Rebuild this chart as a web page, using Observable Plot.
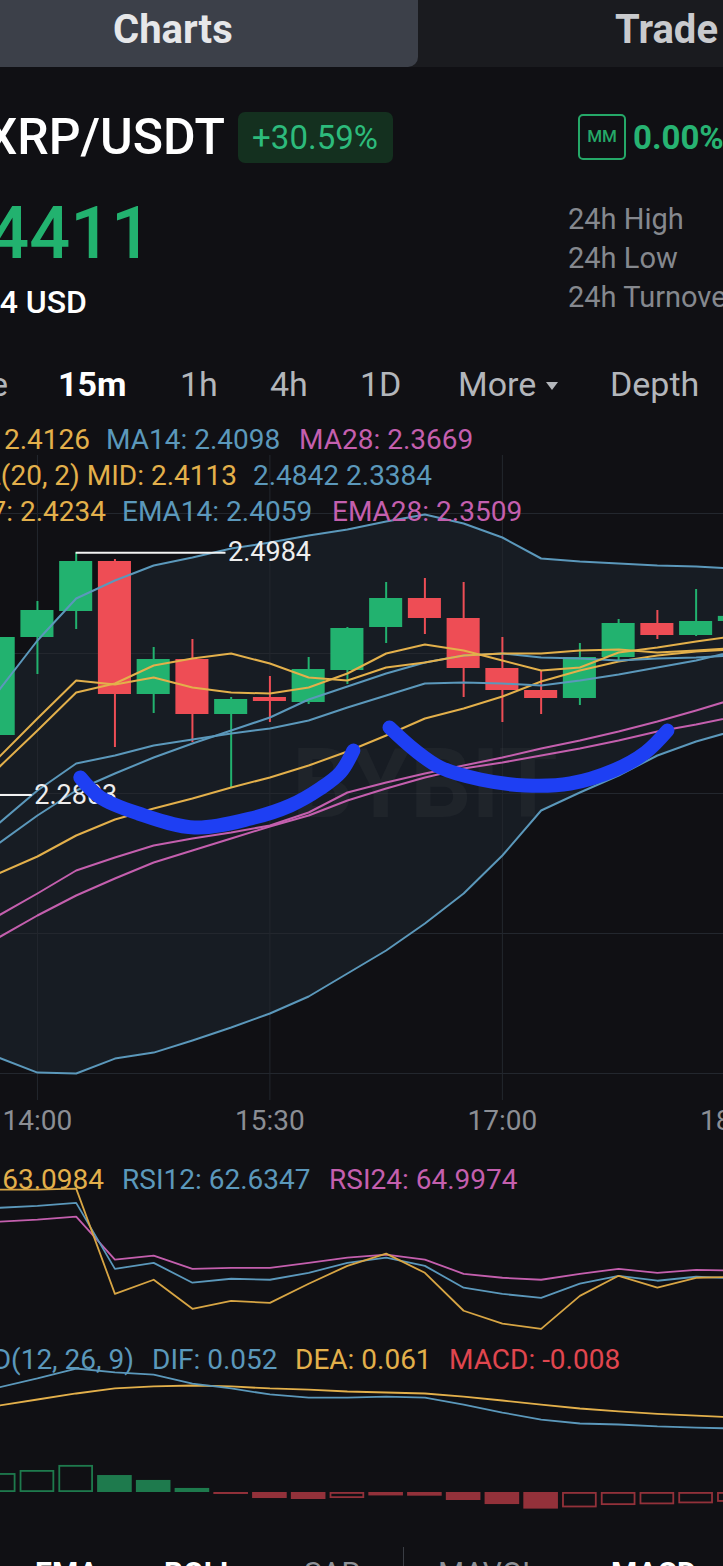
<!DOCTYPE html>
<html><head><meta charset="utf-8">
<script src="https://cdn.jsdelivr.net/npm/d3@7"></script>
<script src="https://cdn.jsdelivr.net/npm/@observablehq/plot@0.6"></script>
<style>
html,body{margin:0;padding:0;}
body{width:723px;height:1566px;overflow:hidden;position:relative;background:#101014;font-family:Roboto,"Noto Sans",sans-serif;}
.t{position:absolute;white-space:nowrap;line-height:1;}
.box{position:absolute;}
</style></head><body>
<script>
// ---------------- DATA ----------------
const times = ["13:45","14:00","14:15","14:30","14:45","15:00","15:15","15:30","15:45","16:00","16:15","16:30","16:45","17:00","17:15","17:30","17:45","18:00","18:15","18:30"];
const timeTicks = ["14:00","15:30","17:00","18:30"];
const gridPrices = [2.0297, 2.1557, 2.2817, 2.4077, 2.5337];

const priceOpen  = [2.3339,2.4221,2.4455,2.4905,2.3708,2.4023,2.3528,2.3681,2.3636,2.3924,2.4311,2.4572,2.4392,2.3942,2.3744,2.3672,2.4041,2.4347,2.4239,2.4365];
const priceHigh  = [2.4240,2.4545,2.4984,2.4923,2.4131,2.4203,2.3681,2.3870,2.4041,2.4311,2.4716,2.4752,2.4716,2.4221,2.3924,2.4167,2.4383,2.4464,2.4653,2.4420];
const priceLow   = [2.3300,2.3888,2.4293,2.3231,2.3537,2.3276,2.2862,2.3456,2.3618,2.3798,2.4167,2.4248,2.3681,2.3456,2.3528,2.3609,2.4005,2.4203,2.4230,2.4350];
const priceClose = [2.4221,2.4464,2.4905,2.3708,2.4023,2.3528,2.3663,2.3645,2.3933,2.4302,2.4572,2.4392,2.3942,2.3744,2.3672,2.4041,2.4347,2.4239,2.4365,2.4411];

const ma7   = [2.3051,2.3384,2.3726,2.3807,2.3969,2.4032,2.4077,2.3987,2.3861,2.3834,2.3951,2.3996,2.4059,2.4077,2.4077,2.4104,2.4113,2.4086,2.4104,2.4126];
const ma14  = [2.2547,2.2844,2.3087,2.3159,2.3249,2.3303,2.3357,2.3402,2.3474,2.3591,2.3699,2.3807,2.3816,2.3807,2.3789,2.3834,2.3888,2.3951,2.4014,2.4098];
const ma28  = [2.1719,2.1917,2.2124,2.2241,2.2349,2.2412,2.2466,2.2529,2.2646,2.2826,2.2916,2.2997,2.3069,2.3141,2.3222,2.3294,2.3375,2.3465,2.3564,2.3669];
const ema7  = [2.3141,2.3492,2.3834,2.3798,2.3861,2.3771,2.3726,2.3717,2.3771,2.3897,2.4077,2.4158,2.4104,2.4014,2.3924,2.3951,2.4086,2.4131,2.4185,2.4234];
const ema14 = [2.2367,2.2619,2.2844,2.2997,2.3141,2.3267,2.3384,2.3501,2.3663,2.3780,2.3897,2.3996,2.4059,2.4077,2.4041,2.4032,2.4014,2.4032,2.4041,2.4059];
const ema28 = [2.1521,2.1719,2.1899,2.2052,2.2196,2.2304,2.2412,2.2520,2.2619,2.2754,2.2862,2.2961,2.3042,2.3096,2.3159,2.3222,2.3294,2.3375,2.3438,2.3509];
const bollUp  = [2.3744,2.4194,2.4572,2.4734,2.4869,2.4941,2.5022,2.5076,2.5139,2.5193,2.5265,2.5328,2.5247,2.5121,2.4932,2.4905,2.4887,2.4869,2.4860,2.4842];
const bollMid = [2.2097,2.2250,2.2439,2.2583,2.2682,2.2772,2.2871,2.2961,2.3069,2.3195,2.3339,2.3492,2.3582,2.3690,2.3825,2.3924,2.4005,2.4059,2.4095,2.4113];
const bollLow = [2.0440,2.0305,2.0297,2.0431,2.0485,2.0594,2.0711,2.0837,2.0990,2.1197,2.1404,2.1647,2.1917,2.2259,2.2664,2.2826,2.2979,2.3159,2.3285,2.3384];

const highMark = {time: "14:15", price: 2.4984};
const lowMark  = {time: "13:00", price: 2.2803};

const rsi6  = [89.5,89.5,89.8,57.9,62.2,53.4,55.8,55.2,61.0,66.4,70.1,64.3,52.8,48.9,47.3,57.3,63.4,59.8,62.8,63.0984];
const rsi12 = [84.0,84.6,85.5,65.5,67.3,61.3,62.5,62.2,64.3,67.3,68.9,66.4,59.8,57.9,56.7,61.0,63.4,61.9,63.1,62.6347];
const rsi24 = [79.8,80.4,81.3,68.3,69.5,65.5,65.8,65.8,67.3,68.9,69.8,68.3,64.0,62.8,62.2,64.0,65.5,64.3,65.2,64.9974];

const dif  = [0.0854,0.0927,0.1008,0.0976,0.0959,0.0886,0.0846,0.0797,0.0772,0.0772,0.0780,0.0772,0.0715,0.0650,0.0593,0.0561,0.0553,0.0537,0.0528,0.052];
const dea  = [0.0707,0.0756,0.0805,0.0846,0.0862,0.0870,0.0862,0.0846,0.0837,0.0821,0.0813,0.0805,0.0780,0.0748,0.0715,0.0683,0.0659,0.0640,0.0625,0.061];
const macdHist = [0.0154,0.0179,0.0220,0.0138,0.0098,0.0033,-0.0016,-0.0049,-0.0057,-0.0049,-0.0028,-0.0030,-0.0065,-0.0098,-0.0135,-0.0125,-0.0106,-0.0100,-0.0092,-0.008];

// hand-drawn blue annotation strokes (minutes since midnight, price)
const arc1Time  = [856.6,864.4,879.1,900.8,922.5,937.9,949.5,957.3,962.3];
const arc1Price = [2.2961,2.2781,2.2637,2.2511,2.2592,2.2709,2.2862,2.3006,2.3204];
const arc2Time  = [976.3,986.3,996.0,1011.5,1028.9,1046.3,1063.0,1075.4,1083.9];
const arc2Price = [2.3411,2.3204,2.3051,2.2943,2.2889,2.2907,2.3024,2.3186,2.3384];

// ---------------- STYLE ----------------
const GREEN="#22b26f", RED="#ee4d55", YEL="#e3b04b", BLU="#5b98bb", PNK="#c45fae";
const HGREEN="#1e7a4d", HRED="#93313a";
const GRID="#23272e";
const xDomain = [825.7, 1105.6];
const toMin = s => { const [h,m] = s.split(":").map(Number); return h*60+m; };
const halfW = 6.4;

const candles = times.map((t,i)=>({t:toMin(t), o:priceOpen[i], h:priceHigh[i], l:priceLow[i], c:priceClose[i]}));
const ups = candles.filter(d=>d.c>=d.o), downs = candles.filter(d=>d.c<d.o);
const ind = times.map((t,i)=>({t:toMin(t), ma7:ma7[i], ma14:ma14[i], ma28:ma28[i], ema7:ema7[i], ema14:ema14[i], ema28:ema28[i], up:bollUp[i], mid:bollMid[i], lo:bollLow[i],
  rsi6:rsi6[i], rsi12:rsi12[i], rsi24:rsi24[i], dif:dif[i], dea:dea[i], h:macdHist[i], hollow: i===0 || macdHist[i] > macdHist[i-1]}));
const arc1 = arc1Time.map((t,i)=>({t, p:arc1Price[i]}));
const arc2 = arc2Time.map((t,i)=>({t, p:arc2Price[i]}));

const baseStyle = {background:"transparent", fontFamily:"Roboto, sans-serif", overflow:"hidden"};
const ln = (key, color, w=2) => Plot.line(ind, {x:"t", y:key, stroke:color, strokeWidth:w, clip:true});

function place(el, top){ const w=document.createElement("div"); w.style.cssText=`position:absolute;left:0;top:${top}px;width:723px;`; w.appendChild(el); document.body.appendChild(w); }
function box(x,y,w,h,css){ const d=document.createElement("div"); d.className="box"; d.style.cssText+=`left:${x}px;top:${y}px;width:${w}px;height:${h}px;${css}`; document.body.appendChild(d); return d; }
function txt(str,x,y,size,color,opts={}){
  const d=document.createElement("div"); d.className="t"; d.textContent=str;
  d.style.left=x+"px"; d.style.top=y+"px"; d.style.fontSize=size+"px"; d.style.color=color;
  d.style.fontWeight=opts.weight||400;
  const tx = opts.anchor==="end"?"-100%":opts.anchor==="middle"?"-50%":"0";
  d.style.transform=`translate(${tx},-50%)`;
  document.body.appendChild(d); return d;
}

// ---------------- MAIN CHART ----------------
const main = Plot.plot({
  width:723, height:725, marginTop:35, marginBottom:45, marginLeft:0, marginRight:0,
  style: baseStyle,
  x:{domain:xDomain, axis:null},
  y:{domain:[gridPrices[0], gridPrices[gridPrices.length-1]], range:[653,93], axis:null},
  marks:[
    Plot.areaY(ind, {x:"t", y1:"lo", y2:"up", fill:"#171c23", clip:true}),
    Plot.ruleY(gridPrices, {stroke:GRID, strokeWidth:1}),
    Plot.ruleX(timeTicks, {x:toMin, stroke:GRID, strokeWidth:1}),
    Plot.text(["BYBIT"], {frameAnchor:"middle", dx:63, dy:8, fontSize:96, fontWeight:700, fill:"#ffffff", fillOpacity:0.035}),
    Plot.ruleX(ups, {x:"t", y1:"l", y2:"h", stroke:GREEN, strokeWidth:2, clip:true}),
    Plot.ruleX(downs, {x:"t", y1:"l", y2:"h", stroke:RED, strokeWidth:2, clip:true}),
    Plot.rect(ups, {x1:d=>d.t-halfW, x2:d=>d.t+halfW, y1:"o", y2:"c", fill:GREEN, clip:true}),
    Plot.rect(downs, {x1:d=>d.t-halfW, x2:d=>d.t+halfW, y1:"o", y2:"c", fill:RED, clip:true}),
    ln("up", BLU), ln("lo", BLU), ln("mid", YEL),
    ln("ma28", PNK), ln("ema28", PNK),
    ln("ma14", BLU), ln("ema14", BLU),
    ln("ma7", YEL), ln("ema7", YEL),
    Plot.ruleY([highMark, lowMark], {y:"price", x1:d=>toMin(d.time), x2:d=>toMin(d.time)+58, stroke:"#f2f2f2", strokeWidth:2, clip:true}),
    Plot.text([highMark, lowMark], {x:d=>toMin(d.time)+58, y:"price", text:d=>d.price.toFixed(4), textAnchor:"start", dx:2, fontSize:27, fill:"#eeeeee"}),
    Plot.text(timeTicks, {x:toMin, text:d=>d, frameAnchor:"bottom", dy:29, fontSize:28, fill:"#8b8e94"}),
    Plot.line(arc1, {x:"t", y:"p", stroke:"#1e3ff3", strokeWidth:14, strokeLinecap:"round", strokeLinejoin:"round", curve:"catmull-rom"}),
    Plot.line(arc2, {x:"t", y:"p", stroke:"#1e3ff3", strokeWidth:14, strokeLinecap:"round", strokeLinejoin:"round", curve:"catmull-rom"})
  ]
});
place(main, 420);

// ---------------- RSI ----------------
const rsiPlot = Plot.plot({
  width:723, height:195, marginTop:0, marginBottom:0, marginLeft:0, marginRight:0,
  style: baseStyle,
  x:{domain:xDomain, axis:null},
  y:{domain:[45,95], range:[191,26], axis:null},
  marks:[ ln("rsi24", PNK, 1.8), ln("rsi12", BLU, 1.8), ln("rsi6", "#d7a544", 1.8) ]
});
place(rsiPlot, 1145);

// ---------------- MACD ----------------
const histRect = (data, o) => Plot.rect(data, {x1:d=>d.t-halfW-0.3, x2:d=>d.t+halfW+0.3, y1:0, y2:"h", clip:true, ...o});
const macdPlot = Plot.plot({
  width:723, height:205, marginTop:0, marginBottom:0, marginLeft:0, marginRight:0,
  style: baseStyle,
  x:{domain:xDomain, axis:null},
  y:{domain:[-0.02,0.11], range:[176.6,16.7], axis:null},
  marks:[
    histRect(ind.filter(d=>d.h>=0 && !d.hollow), {fill:HGREEN}),
    histRect(ind.filter(d=>d.h>=0 && d.hollow), {fill:"none", stroke:HGREEN, strokeWidth:1.8, inset:0.9}),
    histRect(ind.filter(d=>d.h<0 && !d.hollow), {fill:HRED}),
    histRect(ind.filter(d=>d.h<0 && d.hollow), {fill:"none", stroke:HRED, strokeWidth:1.8, inset:0.9}),
    ln("dea", YEL, 1.8), ln("dif", BLU, 1.8)
  ]
});
place(macdPlot, 1340);

// ---------------- HEADER / TEXT ----------------
box(0,0,723,67,"background:#1a1b1f;");
box(0,0,418,67,"background:#3c4049;border-bottom-right-radius:10px;");
txt("Charts",113,30,40,"#e6e7e9",{weight:700});
txt("Trade",615,30,40,"#c9cacd",{weight:700});

txt("XRP/USDT",225,137,50,"#ffffff",{anchor:"end",weight:500});
box(238,112,155,51,"background:#14301f;border-radius:7px;");
txt("+30.59%",315,137,33,"#2dbb7c",{anchor:"middle"});
box(578,114,44,42,"border:2px solid #25a868;border-radius:5px;");
txt("MM",602,136,17,"#25a868",{anchor:"middle",weight:500});
txt("0.00%",633,137,33,"#27b372",{weight:700});
txt("2.4411",152,234,72,"#22b26f",{anchor:"end",weight:500});
txt("≈2.4414 USD",87,302,32,"#ffffff",{anchor:"end",weight:500});
txt("24h High",568,219,29,"#85888e");
txt("24h Low",568,258,29,"#85888e");
txt("24h Turnover",568,297,29,"#85888e");

const tabC="#b3b6bb";
txt("Time",8,384,34,tabC,{anchor:"end"});
txt("15m",58,384,34,"#ffffff",{weight:700});
txt("1h",180,384,34,tabC);
txt("4h",270,384,34,tabC);
txt("1D",360,384,34,tabC);
txt("More",458,384,34,tabC);
box(546,382,0,0,`border-left:6px solid transparent;border-right:6px solid transparent;border-top:8px solid ${tabC};`);
txt("Depth",610,384,34,tabC);

const f4 = v => v.toFixed(4), last = a => a[a.length-1];
txt(`MA7: ${f4(last(ma7))}`,90,440,28,YEL,{anchor:"end"});
txt(`MA14: ${f4(last(ma14))}`,106,440,28,BLU);
txt(`MA28: ${f4(last(ma28))}`,299,440,28,PNK);
txt(`BOLL(20, 2) MID: ${f4(last(bollMid))}`,237,476,28,YEL,{anchor:"end"});
txt(`${f4(last(bollUp))} ${f4(last(bollLow))}`,253,476,28,BLU);
txt(`EMA7: ${f4(last(ema7))}`,106,512,28,YEL,{anchor:"end"});
txt(`EMA14: ${f4(last(ema14))}`,122,512,28,BLU);
txt(`EMA28: ${f4(last(ema28))}`,332,512,28,PNK);

txt(`RSI6: ${f4(last(rsi6))}`,104,1180,28,YEL,{anchor:"end"});
txt(`RSI12: ${f4(last(rsi12))}`,122,1180,28,BLU);
txt(`RSI24: ${f4(last(rsi24))}`,329,1180,28,PNK);

txt("MACD(12, 26, 9)",134,1360,28,BLU,{anchor:"end"});
txt(`DIF: ${last(dif).toFixed(3)}`,152,1360,28,BLU);
txt(`DEA: ${last(dea).toFixed(3)}`,295,1360,28,YEL);
txt(`MACD: ${last(macdHist).toFixed(3)}`,449,1360,28,"#e0464f");

txt("EMA",35,1573,30,"#ffffff",{weight:700});
txt("BOLL",164,1573,30,"#ffffff",{weight:700});
txt("SAR",304,1573,30,"#8e9197");
box(403,1547,1,19,"background:#3a3d44;");
txt("MAVOL",438,1573,30,"#8e9197");
txt("MACD",611,1573,30,"#ffffff",{weight:700});
</script></body></html>
